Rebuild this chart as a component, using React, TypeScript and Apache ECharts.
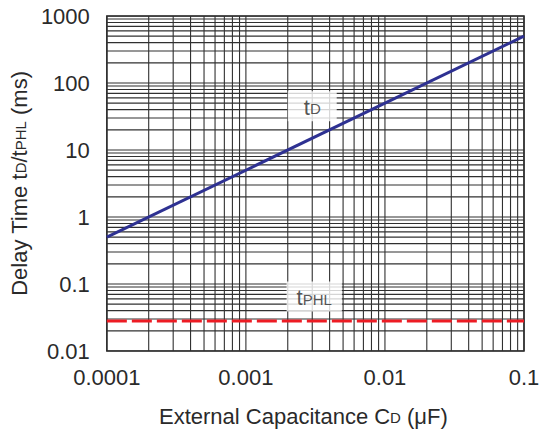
import React, { useEffect, useRef } from "react";
import * as echarts from "echarts";

// Data
const capacitance = [0.0001, 0.1]; // µF
const tdValues = [0.5, 500]; // ms
const tphlValues = [0.028, 0.028]; // ms
const xTickLabels = ["0.0001", "0.001", "0.01", "0.1"];
const yTickLabels = ["0.01", "0.1", "1", "10", "100", "1000"];
const tdLabelPos = [0.003, 45];
const tphlLabelPos = [0.0031, 0.065];

const X_MIN = 0.0001, X_MAX = 0.1, Y_MIN = 0.01, Y_MAX = 1000;

function logGrid(min: number, max: number): number[] {
  const out: number[] = [];
  for (let d = min; d < max * 0.999; d *= 10) {
    for (let k = 1; k <= 9; k++) out.push(+(d * k).toPrecision(3));
  }
  out.push(max);
  return out;
}

const FONT = "Liberation Sans, Arial, sans-serif";
const TXT = "#2a2a2a";
const GRID = "#303030";

const richMain = { fontSize: 22, lineHeight: 24, color: TXT, fontFamily: FONT, verticalAlign: "bottom" };
const richSub = { fontSize: 15, lineHeight: 15, color: TXT, fontFamily: FONT, verticalAlign: "bottom", padding: [0, 0, 2, 0] };

export default function App() {
  const ref = useRef<HTMLDivElement>(null);
  useEffect(() => {
    if (!ref.current) return;
    const chart = echarts.init(ref.current, undefined, { renderer: "svg" });
    const xs = logGrid(X_MIN, X_MAX);
    const ys = logGrid(Y_MIN, Y_MAX);
    const gridSeries = [
      ...xs.map((v) => ({
        type: "line", silent: true, showSymbol: false, z: 1,
        data: [[v, Y_MIN], [v, Y_MAX]],
        lineStyle: { color: GRID, width: 1.1 },
      })),
      ...ys.map((v) => ({
        type: "line", silent: true, showSymbol: false, z: 1,
        data: [[X_MIN, v], [X_MAX, v]],
        lineStyle: { color: GRID, width: 1.1 },
      })),
    ];
    chart.setOption({
      animation: false,
      backgroundColor: "#fff",
      textStyle: { fontFamily: FONT },
      grid: {
        left: 106, right: 22, top: 16, bottom: 78,
        show: true, borderColor: "#222", borderWidth: 1.5, backgroundColor: "transparent",
      },
      xAxis: {
        type: "log", logBase: 10, min: X_MIN, max: X_MAX,
        axisLine: { show: false }, axisTick: { show: false }, splitLine: { show: false },
        axisLabel: {
          color: TXT, fontSize: 22, fontFamily: FONT, margin: 15,
          formatter: (_v: number, i: number) => xTickLabels[i] ?? "",
        },
        name: "{a|External Capacitance C}{s|D}{a| (μF)}",
        nameLocation: "middle", nameGap: 52,
        nameTextStyle: {
          padding: [0, 24, 0, 0],
          rich: { a: richMain, s: richSub },
        },
      },
      yAxis: {
        type: "log", logBase: 10, min: Y_MIN, max: Y_MAX,
        axisLine: { show: false }, axisTick: { show: false }, splitLine: { show: false },
        axisLabel: {
          color: TXT, fontSize: 22, fontFamily: FONT, margin: 17,
          formatter: (_v: number, i: number) => yTickLabels[i] ?? "",
        },
        name: "{a|Delay Time t}{s|D}{a|/t}{s|PHL}{a| (ms)}",
        nameLocation: "middle", nameGap: 72,
        nameTextStyle: {
          rich: { a: richMain, s: richSub },
        },
      },
      series: [
        ...gridSeries,
        {
          type: "scatter", z: 5, silent: true, symbolSize: 0,
          data: [
            { value: tdLabelPos, label: { formatter: "{t|t}{s|D}", padding: [3, 16, 3, 16] } },
            { value: tphlLabelPos, label: { formatter: "{t|t}{s|PHL}", padding: [3, 10, 3, 10] } },
          ],
          label: {
            show: true, position: "inside",
            backgroundColor: "#fff",
            rich: { t: richMain, s: richSub },
          },
        },
        {
          name: "tD", type: "line", z: 10, showSymbol: false, silent: true,
          data: capacitance.map((c, i) => [c, tdValues[i]]),
          lineStyle: { color: "#2E3192", width: 3 },
        },
        {
          name: "tPHL", type: "line", z: 10, showSymbol: false, silent: true,
          data: capacitance.map((c, i) => [c, tphlValues[i]]),
          lineStyle: { color: "#ED1C24", width: 3, type: [20, 5] },
        },
      ],
    });
    return () => chart.dispose();
  }, []);
  return <div ref={ref} style={{ width: 546, height: 432, position: "absolute", left: 0, top: 0 }} />;
}
